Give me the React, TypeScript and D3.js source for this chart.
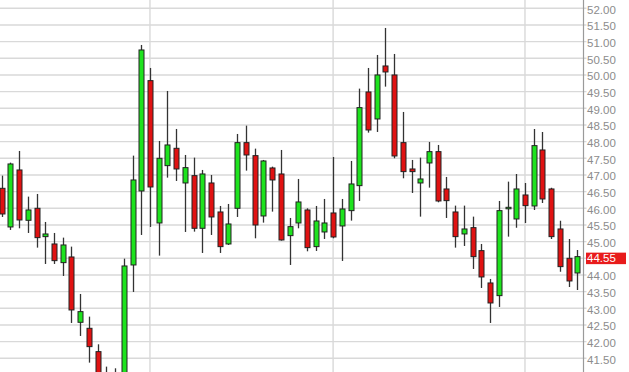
import React from "react";
import * as d3 from "d3";

const opens = [46.6,45.44,47.15,45.64,46.0,45.15,44.93,44.37,44.54,42.58,42.4,41.7,41.0,40.6,40.8,44.3,46.52,49.83,45.56,47.28,47.8,46.76,46.98,45.4,46.76,45.89,44.93,46.0,47.97,47.58,45.77,47.21,47.03,45.18,45.56,45.95,44.85,45.29,45.86,45.47,45.93,46.68,49.49,48.68,50.27,50.0,47.97,47.18,46.76,47.36,47.7,46.58,45.89,45.23,45.42,44.73,43.76,43.38,46.02,45.68,46.4,46.07,47.75,46.58,45.38,44.5,44.06];
const highs = [46.98,47.37,47.72,46.35,46.43,45.59,45.26,45.12,44.85,43.43,42.75,41.92,41.25,41.2,44.49,47.58,50.9,50.21,48.02,49.52,48.38,47.6,47.52,47.15,47.0,46.07,46.13,48.23,48.48,47.79,47.45,47.25,47.75,45.71,46.88,46.0,46.07,46.28,47.54,46.28,47.42,49.59,50.21,50.6,51.41,50.63,48.89,47.45,47.52,47.99,47.9,46.94,46.08,46.08,45.75,44.93,43.88,46.22,46.8,47.03,46.76,48.38,48.29,46.62,45.63,45.08,44.75];
const lows = [45.74,45.35,45.4,45.26,44.82,44.33,44.33,43.97,42.56,42.17,41.37,40.6,40.4,40.4,40.6,43.49,45.2,45.44,44.58,46.92,46.82,45.29,45.3,44.66,45.2,44.66,44.9,45.74,47.13,45.1,45.57,45.9,45.03,44.3,45.4,44.71,44.72,45.08,45.1,44.42,45.63,46.22,48.27,48.29,49.65,47.5,46.9,46.46,45.75,46.62,46.18,45.71,44.82,44.87,44.18,43.61,42.56,43.04,45.15,45.42,45.56,45.95,46.16,45.08,44.1,43.64,43.55];
const closes = [45.83,47.33,45.65,45.95,45.12,45.23,44.43,44.9,42.95,42.9,41.85,40.9,40.7,40.9,44.27,46.85,50.75,46.64,47.5,47.9,47.18,47.22,45.4,47.03,45.74,44.85,45.53,47.97,47.6,45.5,47.42,46.85,45.05,45.45,46.19,44.82,45.62,45.56,45.14,45.98,46.73,49.02,48.35,50.0,50.09,47.57,47.1,47.1,46.88,47.7,46.22,46.23,45.15,45.38,44.55,43.94,43.16,45.93,46.03,46.58,46.08,47.88,46.28,45.15,44.25,43.82,44.55];
const tickLabels = ["52.00","51.50","51.00","50.50","50.00","49.50","49.00","48.50","48.00","47.50","47.00","46.50","46.00","45.50","45.00","44.50","44.00","43.50","43.00","42.50","42.00","41.50"];
const periodStartIndices = [17, 38, 60];
const lastPrice = 44.55;

const W = 629;
const H = 372;
const AXIS_X = 583.5;

export default function App() {
  const y = d3.scaleLinear().domain([41.5, 52]).range([358.3, 8.3]);
  const x = d3.scaleLinear().domain([0, opens.length - 1]).range([1.7, 577.3]);
  const tickValues = tickLabels.map((t) => parseFloat(t));
  const green = "#1ee31e";
  const red = "#e01212";
  const font = "'Liberation Sans', Arial, sans-serif";

  return (
    <div style={{ position: "fixed", left: 0, top: 0, width: W, height: H, background: "#fff" }}>
      <svg width={W} height={H} style={{ display: "block" }}>
        <defs>
          <clipPath id="plot">
            <rect x={0} y={0} width={AXIS_X} height={H} />
          </clipPath>
        </defs>
        <rect x={0} y={0} width={W} height={H} fill="#fff" />
        {tickValues.map((v, i) => (
          <line key={"g" + i} x1={0} x2={AXIS_X + 3} y1={y(v)} y2={y(v)} stroke="#d9d9d9" strokeWidth={1.4} />
        ))}
        {periodStartIndices.map((idx) => (
          <line key={"v" + idx} x1={x(idx)} x2={x(idx)} y1={0} y2={H} stroke="#d9d9d9" strokeWidth={1.4} />
        ))}
        <g clipPath="url(#plot)">
          {opens.map((o, i) => {
            const c = closes[i];
            const cx = Math.round(x(i)) + 0.5;
            const top = y(Math.max(o, c));
            const bot = y(Math.min(o, c));
            const up = c >= o;
            return (
              <g key={"c" + i}>
                <line x1={cx} x2={cx} y1={y(highs[i])} y2={y(lows[i])} stroke="#333" strokeWidth={1.3} />
                <rect
                  x={cx - 2.5}
                  y={top}
                  width={5}
                  height={Math.max(bot - top, 1.5)}
                  fill={up ? green : red}
                  stroke="#222"
                  strokeWidth={1}
                />
              </g>
            );
          })}
        </g>
        <line x1={AXIS_X} x2={AXIS_X} y1={0} y2={H} stroke="#9a9a9a" strokeWidth={1.2} />
        {tickValues.map((v, i) => (
          <text
            key={"t" + i}
            x={587}
            y={y(v) + 1.5}
            dominantBaseline="central"
            fontFamily={font}
            fontSize={11.5}
            fill="#8c8c8c"
          >
            {tickLabels[i]}
          </text>
        ))}
        <rect x={586} y={y(lastPrice) - 4} width={40} height={11.5} fill="#e81b1b" />
        <text
          x={587}
          y={y(lastPrice) + 1.8}
          dominantBaseline="central"
          fontFamily={font}
          fontSize={11.5}
          fill="#fff"
        >
          {lastPrice.toFixed(2)}
        </text>
      </svg>
    </div>
  );
}
